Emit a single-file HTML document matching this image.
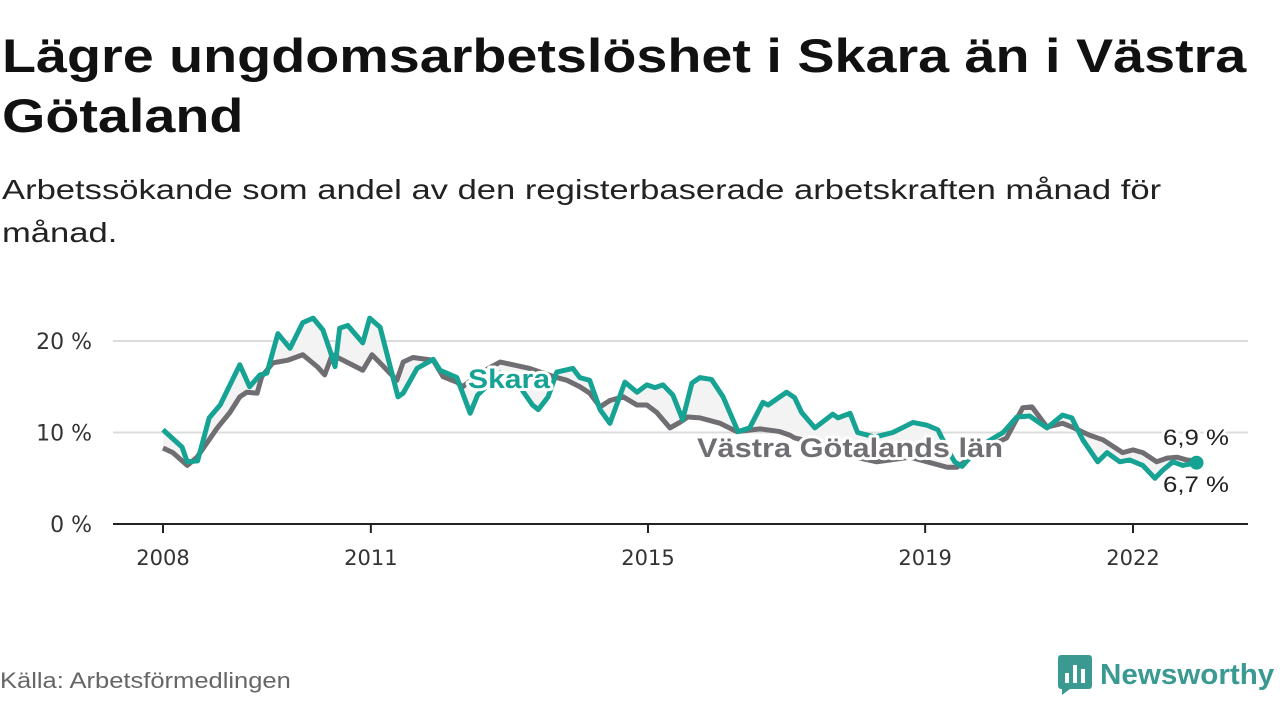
<!DOCTYPE html>
<html><head><meta charset="utf-8">
<style>
body{margin:0;background:#fff;width:1280px;height:720px;overflow:hidden;font-family:"Liberation Sans",sans-serif;}
.ln{position:absolute;left:2px;white-space:nowrap;transform-origin:0 0;}
.t{font-size:47px;font-weight:bold;color:#111;transform:scaleX(1.185);}
.s{font-size:28px;color:#222;transform:scaleX(1.235);}
#src{position:absolute;left:0;top:668px;font-size:22px;color:#666;transform:scaleX(1.16);transform-origin:0 0;white-space:nowrap;}
#logo{position:absolute;left:1058px;top:655px;display:flex;align-items:center;}
#logo span{font-size:29px;font-weight:bold;color:#3a9a92;margin-left:8px;display:inline-block;transform:scaleX(1.02);transform-origin:0 0;}
</style></head><body>
<div>
<div class="ln t" style="top:28px">Lägre ungdomsarbetslöshet i Skara än i Västra</div>
<div class="ln t" style="top:88px">Götaland</div></div>
<div>
<div class="ln s" style="top:174px">Arbetssökande som andel av den registerbaserade arbetskraften månad för</div>
<div class="ln s" style="top:217px">månad.</div></div>
<div id="src">Källa: Arbetsförmedlingen</div>
<div id="logo">
<svg width="34" height="40" viewBox="0 0 34 40"><rect x="0" y="0" width="34" height="34" rx="3" fill="#3a9a92"/><path d="M4 40 L4 34 L12 34 Z" fill="#3a9a92"/><rect x="7" y="18" width="4" height="10" fill="#fff"/><rect x="15" y="10" width="4" height="18" fill="#fff"/><rect x="23" y="14" width="4" height="14" fill="#fff"/></svg>
<span>Newsworthy</span></div>
<svg id="chart" width="1280" height="720" style="position:absolute;left:0;top:0"></svg>
<script>
const skaraMonths=[0,3.3,4.2,6,8,9.9,13.3,15,16.8,18,19.9,22,24.2,26,27.7,28.9,29.8,30.6,32,34.6,35.8,37.6,40.7,41.6,44,46.8,48,50.9,53.2,54.5,58.4,61.8,64,65,66.7,68.2,71,72.2,73.9,75.7,77.4,80,82.1,83.8,85.2,86.6,88.3,90,91.6,93,95,97,99.6,101.6,103.9,104.8,108,109.4,110.6,112.9,116,116.9,119,120.3,123.3,126.4,129.9,132.3,134.2,136,137.1,138.4,141.5,145.5,147.9,150.1,153.1,155.8,157.4,159.3,161.9,163.5,165.7,167.4,169.7,171.8,173.2,174.9,176.6,179];
const skaraValues=[10.3,8.4,6.8,6.9,11.6,13,17.4,15,16.3,16.5,20.8,19.2,22,22.5,21.2,19,17.2,21.4,21.7,19.8,22.5,21.5,13.9,14.3,17,18,16.8,16,12.1,14.1,16.5,15,13,12.5,13.9,16.6,17,16,15.7,12.5,11,15.5,14.4,15.2,14.9,15.2,14.1,11.4,15.4,16,15.8,13.9,10.1,10.5,13.3,13,14.4,13.8,12.2,10.5,12,11.6,12.1,10,9.5,10,11.1,10.8,10.3,8,6.8,6.3,8.5,10,11.7,11.8,10.5,11.9,11.6,9.2,6.8,7.8,6.8,7,6.4,5,5.9,6.8,6.4,6.7];
const vgMonths=[0,1.7,4.2,5.9,9.4,11.6,13.3,14.5,16.3,17.1,19,21.6,24.2,26.7,28,29.3,31.2,34.6,36.2,37.6,40.5,41.6,43.3,46.8,48.5,50.9,51.9,54.9,58.4,63.5,68.2,70,72.2,73.9,75.7,77.4,79.7,82.1,83.8,85.5,87.8,89.5,90.9,93,96.5,99.4,103.4,106.8,108.6,109.4,115.5,120.7,123.6,129.4,135.8,137.5,141.5,146.1,148.9,150.5,153.1,155.8,157.4,160.5,162.8,166.2,168,169.7,172.1,173.9,175.6,177.3,179];
const vgValues=[8.3,7.8,6.4,7.3,10.5,12.2,13.9,14.4,14.3,16.1,17.6,17.9,18.5,17.2,16.3,18.5,17.9,16.8,18.5,17.6,15.7,17.7,18.2,17.9,16.1,15.5,15,16.5,17.7,17,16,15.7,15,14.3,12.8,13.5,13.9,13,13,12.2,10.5,11.1,11.7,11.6,11,10.1,10.4,10.1,9.7,9.4,8.5,7.2,6.8,7.3,6.2,6.2,8,9.4,12.7,12.8,10.6,11,10.6,9.7,9.2,7.8,8.1,7.8,6.8,7.2,7.3,7,6.9];
const yTicks=[0,10,20];
const yTickLabels=["0 %","10 %","20 %"];
const xTicks=[2008,2011,2015,2019,2022];
const NS="http://www.w3.org/2000/svg";
const svg=document.getElementById('chart');
const X=m=>163+m*(1133-163)/168;
const XY=y=>X((y-2008)*12);
const Y=v=>524-v*9.15;
function mk(t,a,p){const e=document.createElementNS(NS,t);for(const k in a)e.setAttribute(k,a[k]);(p||svg).appendChild(e);return e;}
yTicks.forEach((t,i)=>{
 if(t>0){const g=mk('line',{x1:113,x2:1248,y1:Y(t),y2:Y(t),stroke:'#dcdcdc','stroke-width':2});
 
 }
 const l=mk('text',{x:92,y:Y(t)+8,'text-anchor':'end','font-size':22,fill:'#333','font-family':'DejaVu Sans, sans-serif'});
 l.textContent=yTickLabels[i];
 
 
});
xTicks.forEach(t=>{
 const tk=mk('line',{x1:XY(t),x2:XY(t),y1:524,y2:533,stroke:'#222','stroke-width':2});
 
 
 const l=mk('text',{x:XY(t),y:565,'text-anchor':'middle','font-size':21,fill:'#333','font-family':'DejaVu Sans, sans-serif'});
 l.textContent=t;
 
 
});
const pts1=skaraMonths.map((m,i)=>X(m)+','+Y(skaraValues[i]));
const pts2=vgMonths.map((m,i)=>X(m)+','+Y(vgValues[i])).reverse();
const area=mk('polygon',{points:pts1.concat(pts2).join(' '),fill:'#f3f3f3'});


const ax=mk('line',{x1:113,x2:1248,y1:524,y2:524,stroke:'#222','stroke-width':2});


const vg=mk('polyline',{points:vgMonths.map((m,i)=>X(m)+','+Y(vgValues[i])).join(' '),fill:'none',stroke:'#706e72','stroke-width':5,'stroke-linejoin':'round'});


const sk=mk('polyline',{points:pts1.join(' '),fill:'none',stroke:'#16a394','stroke-width':5,'stroke-linejoin':'round'});


const last=skaraMonths.length-1;
const dot=mk('circle',{cx:X(skaraMonths[last]),cy:Y(skaraValues[last]),r:7,fill:'#16a394'});


function lab(txt,x,y,fill,sz,bold,name,len){
 const a={x:x,y:y,'font-size':sz,'font-weight':bold?'bold':'normal',fill:fill,stroke:'#fff','stroke-width':bold?6:5,'paint-order':'stroke','stroke-linejoin':'round','font-family':'Liberation Sans, sans-serif'};
 if(len){a.textLength=len;a.lengthAdjust='spacingAndGlyphs';}
 const t=mk('text',a);
 t.textContent=txt;
 
 
}
lab('Skara',468,388,'#16a394',27,true,'skara-label',82);
lab('Västra Götalands län',697,457,'#706e72',27,true,'vastra-gotaland-label',306);
lab('6,9 %',1163,445,'#222',22,false,'vg-end-value',66);
lab('6,7 %',1163,492,'#222',22,false,'skara-end-value',66);
</script>
</body></html>
